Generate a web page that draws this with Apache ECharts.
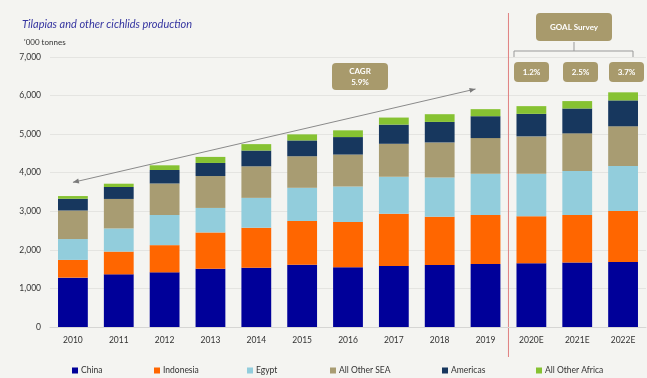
<!DOCTYPE html>
<html><head><meta charset="utf-8">
<script src="https://cdn.jsdelivr.net/npm/echarts@6/dist/echarts.min.js"></script>
<style>html,body{margin:0;padding:0;background:#f4f4f1;}#c{width:647px;height:378px;}</style>
</head><body><div id="c"></div>
<script>
const categories = ['2010','2011','2012','2013','2014','2015','2016','2017','2018','2019','2020E','2021E','2022E'];
const china     = [1280,1365,1417,1513,1539,1617,1548,1583,1609,1635,1652,1670,1687];
const indonesia = [460, 590, 705, 939, 1035,1131,1174,1356,1252,1269,1218,1234,1322];
const egypt     = [540, 600, 782, 635, 774, 861, 921, 956, 1017,1070,1104,1140,1165];
const otherSEA  = [740, 765, 817, 826, 818, 818, 828, 855, 907, 924, 968, 976, 1029];
const americas  = [305, 310, 349, 340, 409, 410, 453, 497, 532, 567, 584, 645, 672];
const otherAfr  = [70,  85,  122, 157, 166, 157, 175, 183, 200, 183, 200, 192, 209];
const seriesNames = ['China','Indonesia','Egypt','All Other SEA','Americas','All Other Africa'];
const seriesData = [china, indonesia, egypt, otherSEA, americas, otherAfr];
const colors = ['#000099','#ff6600','#92cddc','#a89c72','#17375e','#86c232'];
const cagrText = 'CAGR\n5.9%';
const goalText = 'GOAL Survey';
const goalRates = ['1.2%','2.5%','3.7%'];

const FONT = 'Lato, "Open Sans", sans-serif';
const chart = echarts.init(document.getElementById('c'));
const legendX = [67, 149, 242, 325, 437, 531];
const box = '#a89a6c';

function rbox(x,y,w,h,txt){
  return {type:'group', children:[
    {type:'rect', shape:{x:x,y:y,width:w,height:h,r:4}, style:{fill:box}},
    {type:'text', x:x+w/2, y:y+h/2, style:{text:txt, fill:'#fff', font:'bold 8px '+FONT, align:'center', verticalAlign:'middle', lineHeight:11}}
  ]};
}

chart.setOption({
  backgroundColor:'#f4f4f1',
  animation:false,
  title:[
    {text:'Tilapias and other cichlids production', left:17, top:14,
     textStyle:{fontSize:11, fontStyle:'italic', fontWeight:'normal', color:'#3535a0', fontFamily:FONT}},
    {text:"'000 tonnes", left:19, top:33, textStyle:{fontSize:8, fontWeight:'normal', color:'#333', fontFamily:FONT}}
  ],
  legend: seriesNames.map((n,i)=>({data:[n], left:legendX[i], top:361, itemWidth:6, itemHeight:6, itemGap:3,
     icon:'rect', textStyle:{fontSize:8.5, color:'#333', fontFamily:FONT, padding:[0,0,0,-2]}})),
  grid:{left:50, right:1, top:57, bottom:51},
  xAxis:{type:'category', data:categories,
    axisLine:{lineStyle:{color:'#d6d6d4'}}, axisTick:{show:false},
    axisLabel:{fontSize:8.5, color:'#333', margin:9, fontFamily:FONT}},
  yAxis:{type:'value', min:0, max:7000, interval:1000,
    axisLine:{show:false}, axisTick:{show:false},
    splitLine:{lineStyle:{color:'#e4e4e1'}},
    axisLabel:{fontSize:8.5, color:'#333', margin:9, fontFamily:FONT,
      formatter:v=>v.toLocaleString('en-US')}},
  series: seriesNames.map((n,i)=>({name:n, type:'bar', stack:'t', data:seriesData[i],
     barWidth:'65%', itemStyle:{color:colors[i]}})),
});

// annotations
const p0 = chart.convertToPixel({xAxisIndex:0,yAxisIndex:0},[0,3750]);
const p1 = chart.convertToPixel({xAxisIndex:0,yAxisIndex:0},[9,6170]);
p1[0] -= 10;
const ang = Math.atan2(p1[1]-p0[1], p1[0]-p0[0]);
function head(p, a){
  const L=6, W=2.5;
  const bx = p[0]-L*Math.cos(a), by = p[1]-L*Math.sin(a);
  return {type:'polygon', shape:{points:[p,[bx+W*Math.sin(a), by-W*Math.cos(a)],[bx-W*Math.sin(a), by+W*Math.cos(a)]]}, style:{fill:'#7a7a7a'}};
}
const mx = (chart.convertToPixel({xAxisIndex:0},9)+chart.convertToPixel({xAxisIndex:0},10))/2;
chart.setOption({graphic:[
  {type:'line', shape:{x1:p0[0],y1:p0[1],x2:p1[0],y2:p1[1]}, style:{stroke:'#8a8a8a', lineWidth:1}},
  head(p1, ang), head(p0, ang+Math.PI),
  {type:'line', shape:{x1:mx,y1:13,x2:mx,y2:357}, style:{stroke:'#e08080', lineWidth:1}},
  rbox(332,63,56,27,cagrText),
  rbox(536,13,76,28,goalText),
  {type:'polyline', shape:{points:[[514,57],[514,51],[633,51],[633,57]]}, style:{stroke:'#999', lineWidth:1, fill:null}},
  {type:'line', shape:{x1:574,y1:42,x2:574,y2:51}, style:{stroke:'#999', lineWidth:1}},
  rbox(514,62,35,20,goalRates[0]),
  rbox(563,62,35,20,goalRates[1]),
  rbox(609,62,35,20,goalRates[2])
]});
</script></body></html>
